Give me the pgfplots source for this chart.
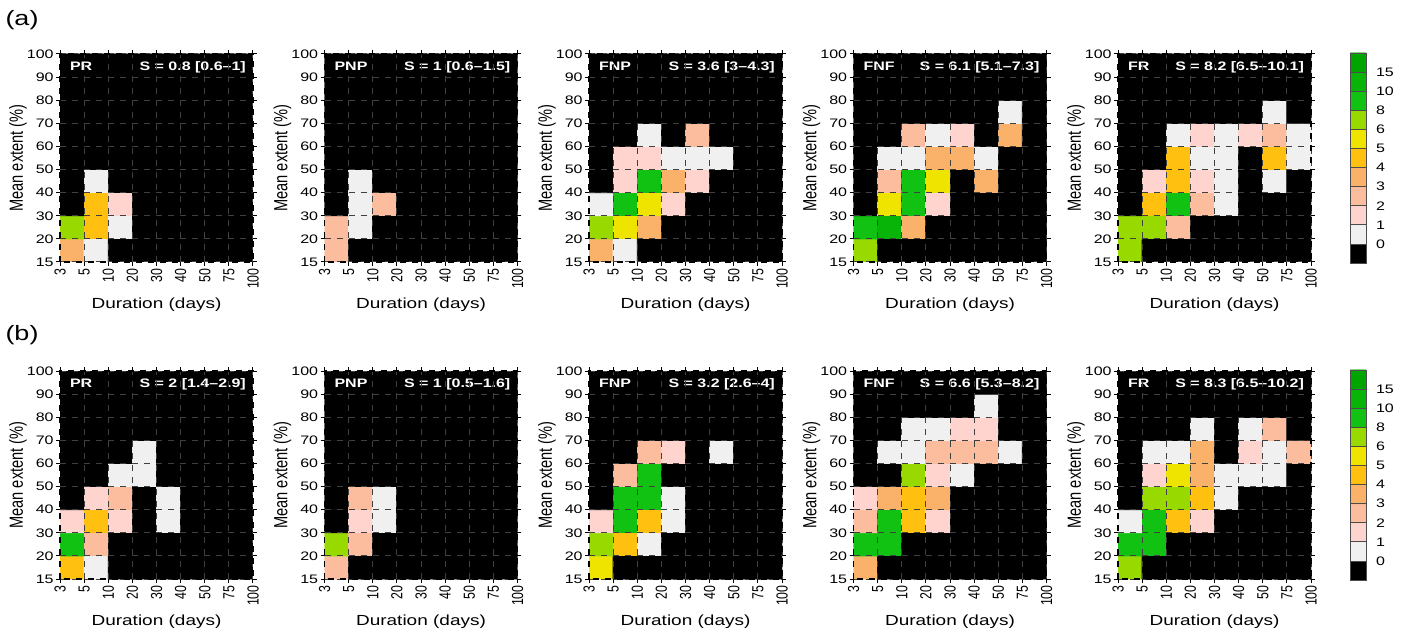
\documentclass[border=0pt]{standalone}
\usepackage{fontspec}
\setmainfont{Liberation Sans}
\usepackage{graphicx}
\usepackage{pgfplots}
\pgfplotsset{compat=1.18}
\newcommand{\hs}[1]{\scalebox{1}[0.77]{#1}}
\newcommand{\vs}[1]{\scalebox{0.77}[1]{#1}}
\tikzset{lab/.style={text=white, font=\bfseries\fontsize{8}{9}\selectfont, inner sep=0pt}}
\pgfplotsset{
  colormap={cat}{rgb255=(0,0,0) rgb255=(240,240,240) rgb255=(255,212,206) rgb255=(252,188,158) rgb255=(250,178,106) rgb255=(255,192,16) rgb255=(238,228,0) rgb255=(152,218,0) rgb255=(18,194,18) rgb255=(8,180,8) rgb255=(0,165,0)},
  panel/.style={
    scale only axis, width=96.5pt, height=104pt,
    xmin=-0.5, xmax=7.5, ymin=-0.5, ymax=8.5, enlargelimits=false,
    xtick={-0.5,0.5,...,7.5},
    xticklabels={\vs{3},\vs{5},\vs{10},\vs{20},\vs{30},\vs{40},\vs{50},\vs{75},\vs{100}},
    ytick={-0.5,0.5,...,8.5},
    yticklabels={\hs{15},\hs{20},\hs{30},\hs{40},\hs{50},\hs{60},\hs{70},\hs{80},\hs{90},\hs{100}},
    tick pos=both, tick align=outside, major tick length=2pt,
    tick style={black, line width=0.5pt},
    x tick label style={rotate=90, anchor=east, inner sep=1pt},
    y tick label style={inner sep=1pt},
    tick label style={font=\fontsize{8}{9}\selectfont},
    xlabel={\hs{Duration (days)}}, ylabel={\vs{Mean extent (\%)}},
    every axis x label/.style={at={(rel axis cs:0.5,0)}, yshift=-21.5pt, anchor=center},
    every axis y label/.style={at={(rel axis cs:0,0.5)}, xshift=-21pt, rotate=90, anchor=center},
    label style={font=\fontsize{9.5}{11}\selectfont},
    grid=major, grid style={dashed, black!75, line width=0.5pt},
    axis on top,
    axis line style={dashed, line width=0.6pt},
    colormap name=cat,
  },
  cell/.style={matrix plot*, point meta=explicit, mesh/cols=8, colormap access=direct},
  cbar/.style={
    scale only axis, width=8pt, height=105pt,
    xmin=-0.5, xmax=1.5, ymin=-0.5, ymax=10.5, enlargelimits=false,
    xtick=\empty, ytick={0.5,1.5,...,9.5},
    yticklabels={\hs{0},\hs{1},\hs{2},\hs{3},\hs{4},\hs{5},\hs{6},\hs{8},\hs{10},\hs{15}},
    yticklabel pos=right, major tick length=0pt, ytick style={draw=none},
    grid=major, grid style={black!70, line width=0.4pt}, axis on top,
    axis line style={black!70, line width=0.4pt},
    tick label style={font=\fontsize{8}{9}\selectfont},
    yticklabel style={xshift=1.5pt},
    colormap name=cat,
  },
}
\newcommand{\panel}[4]{%
\begin{axis}[panel, at={#1}, anchor=south west]
\addplot[cell] coordinates {#4};
\node[lab, anchor=north west] at (rel axis cs:0.05,0.965) {\hs{#2}};
\node[lab, anchor=north east] at (rel axis cs:0.965,0.965) {\hs{#3}};
\end{axis}}
\newcommand{\colbar}[1]{%
\begin{axis}[cbar, at={#1}, anchor=south west]
\addplot[matrix plot*, point meta=explicit, mesh/cols=2, colormap access=direct] coordinates {
(0,0)[0] (1,0)[0] (0,1)[1] (1,1)[1] (0,2)[2] (1,2)[2] (0,3)[3] (1,3)[3]
(0,4)[4] (1,4)[4] (0,5)[5] (1,5)[5] (0,6)[6] (1,6)[6] (0,7)[7] (1,7)[7]
(0,8)[8] (1,8)[8] (0,9)[9] (1,9)[9] (0,10)[10] (1,10)[10]};
\end{axis}}
\begin{document}
\begin{tikzpicture}
\path[use as bounding box] (0,0) rectangle (704pt,316pt);
\node[anchor=center, font=\fontsize{13.5}{14}\selectfont] at (11pt,306pt) {\hs{(a)}};
\node[anchor=center, font=\fontsize{13.5}{14}\selectfont] at (11pt,148.5pt) {\hs{(b)}};
% ---------- row (a) ----------
\panel{(30pt,185pt)}{PR}{S = 0.8 [0.6--1]}{
(0,0)[4] (1,0)[1] (2,0)[0] (3,0)[0] (4,0)[0] (5,0)[0] (6,0)[0] (7,0)[0]
(0,1)[7] (1,1)[5] (2,1)[1] (3,1)[0] (4,1)[0] (5,1)[0] (6,1)[0] (7,1)[0]
(0,2)[0] (1,2)[5] (2,2)[2] (3,2)[0] (4,2)[0] (5,2)[0] (6,2)[0] (7,2)[0]
(0,3)[0] (1,3)[1] (2,3)[0] (3,3)[0] (4,3)[0] (5,3)[0] (6,3)[0] (7,3)[0]
(0,4)[0] (1,4)[0] (2,4)[0] (3,4)[0] (4,4)[0] (5,4)[0] (6,4)[0] (7,4)[0]
(0,5)[0] (1,5)[0] (2,5)[0] (3,5)[0] (4,5)[0] (5,5)[0] (6,5)[0] (7,5)[0]
(0,6)[0] (1,6)[0] (2,6)[0] (3,6)[0] (4,6)[0] (5,6)[0] (6,6)[0] (7,6)[0]
(0,7)[0] (1,7)[0] (2,7)[0] (3,7)[0] (4,7)[0] (5,7)[0] (6,7)[0] (7,7)[0]
(0,8)[0] (1,8)[0] (2,8)[0] (3,8)[0] (4,8)[0] (5,8)[0] (6,8)[0] (7,8)[0]}
\panel{(162.25pt,185pt)}{PNP}{S = 1 [0.6--1.5]}{
(0,0)[3] (1,0)[0] (2,0)[0] (3,0)[0] (4,0)[0] (5,0)[0] (6,0)[0] (7,0)[0]
(0,1)[3] (1,1)[1] (2,1)[0] (3,1)[0] (4,1)[0] (5,1)[0] (6,1)[0] (7,1)[0]
(0,2)[0] (1,2)[1] (2,2)[3] (3,2)[0] (4,2)[0] (5,2)[0] (6,2)[0] (7,2)[0]
(0,3)[0] (1,3)[1] (2,3)[0] (3,3)[0] (4,3)[0] (5,3)[0] (6,3)[0] (7,3)[0]
(0,4)[0] (1,4)[0] (2,4)[0] (3,4)[0] (4,4)[0] (5,4)[0] (6,4)[0] (7,4)[0]
(0,5)[0] (1,5)[0] (2,5)[0] (3,5)[0] (4,5)[0] (5,5)[0] (6,5)[0] (7,5)[0]
(0,6)[0] (1,6)[0] (2,6)[0] (3,6)[0] (4,6)[0] (5,6)[0] (6,6)[0] (7,6)[0]
(0,7)[0] (1,7)[0] (2,7)[0] (3,7)[0] (4,7)[0] (5,7)[0] (6,7)[0] (7,7)[0]
(0,8)[0] (1,8)[0] (2,8)[0] (3,8)[0] (4,8)[0] (5,8)[0] (6,8)[0] (7,8)[0]}
\panel{(294.5pt,185pt)}{FNP}{S = 3.6 [3--4.3]}{
(0,0)[4] (1,0)[1] (2,0)[0] (3,0)[0] (4,0)[0] (5,0)[0] (6,0)[0] (7,0)[0]
(0,1)[7] (1,1)[6] (2,1)[4] (3,1)[0] (4,1)[0] (5,1)[0] (6,1)[0] (7,1)[0]
(0,2)[1] (1,2)[8] (2,2)[6] (3,2)[2] (4,2)[0] (5,2)[0] (6,2)[0] (7,2)[0]
(0,3)[0] (1,3)[2] (2,3)[8] (3,3)[4] (4,3)[2] (5,3)[0] (6,3)[0] (7,3)[0]
(0,4)[0] (1,4)[2] (2,4)[2] (3,4)[1] (4,4)[1] (5,4)[1] (6,4)[0] (7,4)[0]
(0,5)[0] (1,5)[0] (2,5)[1] (3,5)[0] (4,5)[3] (5,5)[0] (6,5)[0] (7,5)[0]
(0,6)[0] (1,6)[0] (2,6)[0] (3,6)[0] (4,6)[0] (5,6)[0] (6,6)[0] (7,6)[0]
(0,7)[0] (1,7)[0] (2,7)[0] (3,7)[0] (4,7)[0] (5,7)[0] (6,7)[0] (7,7)[0]
(0,8)[0] (1,8)[0] (2,8)[0] (3,8)[0] (4,8)[0] (5,8)[0] (6,8)[0] (7,8)[0]}
\panel{(426.75pt,185pt)}{FNF}{S = 6.1 [5.1--7.3]}{
(0,0)[7] (1,0)[0] (2,0)[0] (3,0)[0] (4,0)[0] (5,0)[0] (6,0)[0] (7,0)[0]
(0,1)[8] (1,1)[9] (2,1)[4] (3,1)[0] (4,1)[0] (5,1)[0] (6,1)[0] (7,1)[0]
(0,2)[0] (1,2)[6] (2,2)[8] (3,2)[2] (4,2)[0] (5,2)[0] (6,2)[0] (7,2)[0]
(0,3)[0] (1,3)[3] (2,3)[8] (3,3)[6] (4,3)[0] (5,3)[4] (6,3)[0] (7,3)[0]
(0,4)[0] (1,4)[1] (2,4)[1] (3,4)[4] (4,4)[4] (5,4)[1] (6,4)[0] (7,4)[0]
(0,5)[0] (1,5)[0] (2,5)[3] (3,5)[1] (4,5)[2] (5,5)[0] (6,5)[4] (7,5)[0]
(0,6)[0] (1,6)[0] (2,6)[0] (3,6)[0] (4,6)[0] (5,6)[0] (6,6)[1] (7,6)[0]
(0,7)[0] (1,7)[0] (2,7)[0] (3,7)[0] (4,7)[0] (5,7)[0] (6,7)[0] (7,7)[0]
(0,8)[0] (1,8)[0] (2,8)[0] (3,8)[0] (4,8)[0] (5,8)[0] (6,8)[0] (7,8)[0]}
\panel{(559pt,185pt)}{FR}{S = 8.2 [6.5--10.1]}{
(0,0)[7] (1,0)[0] (2,0)[0] (3,0)[0] (4,0)[0] (5,0)[0] (6,0)[0] (7,0)[0]
(0,1)[7] (1,1)[7] (2,1)[3] (3,1)[0] (4,1)[0] (5,1)[0] (6,1)[0] (7,1)[0]
(0,2)[0] (1,2)[5] (2,2)[8] (3,2)[3] (4,2)[1] (5,2)[0] (6,2)[0] (7,2)[0]
(0,3)[0] (1,3)[2] (2,3)[5] (3,3)[2] (4,3)[1] (5,3)[0] (6,3)[1] (7,3)[0]
(0,4)[0] (1,4)[0] (2,4)[5] (3,4)[1] (4,4)[1] (5,4)[0] (6,4)[5] (7,4)[1]
(0,5)[0] (1,5)[0] (2,5)[1] (3,5)[2] (4,5)[1] (5,5)[2] (6,5)[3] (7,5)[1]
(0,6)[0] (1,6)[0] (2,6)[0] (3,6)[0] (4,6)[0] (5,6)[0] (6,6)[1] (7,6)[0]
(0,7)[0] (1,7)[0] (2,7)[0] (3,7)[0] (4,7)[0] (5,7)[0] (6,7)[0] (7,7)[0]
(0,8)[0] (1,8)[0] (2,8)[0] (3,8)[0] (4,8)[0] (5,8)[0] (6,8)[0] (7,8)[0]}
\colbar{(675pt,184.5pt)}
% ---------- row (b) ----------
\panel{(30pt,26.5pt)}{PR}{S = 2 [1.4--2.9]}{
(0,0)[5] (1,0)[1] (2,0)[0] (3,0)[0] (4,0)[0] (5,0)[0] (6,0)[0] (7,0)[0]
(0,1)[8] (1,1)[3] (2,1)[0] (3,1)[0] (4,1)[0] (5,1)[0] (6,1)[0] (7,1)[0]
(0,2)[2] (1,2)[5] (2,2)[2] (3,2)[0] (4,2)[1] (5,2)[0] (6,2)[0] (7,2)[0]
(0,3)[0] (1,3)[2] (2,3)[3] (3,3)[0] (4,3)[1] (5,3)[0] (6,3)[0] (7,3)[0]
(0,4)[0] (1,4)[0] (2,4)[1] (3,4)[1] (4,4)[0] (5,4)[0] (6,4)[0] (7,4)[0]
(0,5)[0] (1,5)[0] (2,5)[0] (3,5)[1] (4,5)[0] (5,5)[0] (6,5)[0] (7,5)[0]
(0,6)[0] (1,6)[0] (2,6)[0] (3,6)[0] (4,6)[0] (5,6)[0] (6,6)[0] (7,6)[0]
(0,7)[0] (1,7)[0] (2,7)[0] (3,7)[0] (4,7)[0] (5,7)[0] (6,7)[0] (7,7)[0]
(0,8)[0] (1,8)[0] (2,8)[0] (3,8)[0] (4,8)[0] (5,8)[0] (6,8)[0] (7,8)[0]}
\panel{(162.25pt,26.5pt)}{PNP}{S = 1 [0.5--1.6]}{
(0,0)[3] (1,0)[0] (2,0)[0] (3,0)[0] (4,0)[0] (5,0)[0] (6,0)[0] (7,0)[0]
(0,1)[7] (1,1)[3] (2,1)[0] (3,1)[0] (4,1)[0] (5,1)[0] (6,1)[0] (7,1)[0]
(0,2)[0] (1,2)[2] (2,2)[1] (3,2)[0] (4,2)[0] (5,2)[0] (6,2)[0] (7,2)[0]
(0,3)[0] (1,3)[3] (2,3)[1] (3,3)[0] (4,3)[0] (5,3)[0] (6,3)[0] (7,3)[0]
(0,4)[0] (1,4)[0] (2,4)[0] (3,4)[0] (4,4)[0] (5,4)[0] (6,4)[0] (7,4)[0]
(0,5)[0] (1,5)[0] (2,5)[0] (3,5)[0] (4,5)[0] (5,5)[0] (6,5)[0] (7,5)[0]
(0,6)[0] (1,6)[0] (2,6)[0] (3,6)[0] (4,6)[0] (5,6)[0] (6,6)[0] (7,6)[0]
(0,7)[0] (1,7)[0] (2,7)[0] (3,7)[0] (4,7)[0] (5,7)[0] (6,7)[0] (7,7)[0]
(0,8)[0] (1,8)[0] (2,8)[0] (3,8)[0] (4,8)[0] (5,8)[0] (6,8)[0] (7,8)[0]}
\panel{(294.5pt,26.5pt)}{FNP}{S = 3.2 [2.6--4]}{
(0,0)[6] (1,0)[0] (2,0)[0] (3,0)[0] (4,0)[0] (5,0)[0] (6,0)[0] (7,0)[0]
(0,1)[7] (1,1)[5] (2,1)[1] (3,1)[0] (4,1)[0] (5,1)[0] (6,1)[0] (7,1)[0]
(0,2)[2] (1,2)[8] (2,2)[5] (3,2)[1] (4,2)[0] (5,2)[0] (6,2)[0] (7,2)[0]
(0,3)[0] (1,3)[8] (2,3)[8] (3,3)[1] (4,3)[0] (5,3)[0] (6,3)[0] (7,3)[0]
(0,4)[0] (1,4)[3] (2,4)[8] (3,4)[0] (4,4)[0] (5,4)[0] (6,4)[0] (7,4)[0]
(0,5)[0] (1,5)[0] (2,5)[3] (3,5)[2] (4,5)[0] (5,5)[1] (6,5)[0] (7,5)[0]
(0,6)[0] (1,6)[0] (2,6)[0] (3,6)[0] (4,6)[0] (5,6)[0] (6,6)[0] (7,6)[0]
(0,7)[0] (1,7)[0] (2,7)[0] (3,7)[0] (4,7)[0] (5,7)[0] (6,7)[0] (7,7)[0]
(0,8)[0] (1,8)[0] (2,8)[0] (3,8)[0] (4,8)[0] (5,8)[0] (6,8)[0] (7,8)[0]}
\panel{(426.75pt,26.5pt)}{FNF}{S = 6.6 [5.3--8.2]}{
(0,0)[4] (1,0)[0] (2,0)[0] (3,0)[0] (4,0)[0] (5,0)[0] (6,0)[0] (7,0)[0]
(0,1)[8] (1,1)[8] (2,1)[0] (3,1)[0] (4,1)[0] (5,1)[0] (6,1)[0] (7,1)[0]
(0,2)[3] (1,2)[8] (2,2)[5] (3,2)[2] (4,2)[0] (5,2)[0] (6,2)[0] (7,2)[0]
(0,3)[2] (1,3)[4] (2,3)[5] (3,3)[4] (4,3)[0] (5,3)[0] (6,3)[0] (7,3)[0]
(0,4)[0] (1,4)[0] (2,4)[7] (3,4)[2] (4,4)[1] (5,4)[0] (6,4)[0] (7,4)[0]
(0,5)[0] (1,5)[1] (2,5)[1] (3,5)[3] (4,5)[3] (5,5)[3] (6,5)[1] (7,5)[0]
(0,6)[0] (1,6)[0] (2,6)[1] (3,6)[1] (4,6)[2] (5,6)[2] (6,6)[0] (7,6)[0]
(0,7)[0] (1,7)[0] (2,7)[0] (3,7)[0] (4,7)[0] (5,7)[1] (6,7)[0] (7,7)[0]
(0,8)[0] (1,8)[0] (2,8)[0] (3,8)[0] (4,8)[0] (5,8)[0] (6,8)[0] (7,8)[0]}
\panel{(559pt,26.5pt)}{FR}{S = 8.3 [6.5--10.2]}{
(0,0)[7] (1,0)[0] (2,0)[0] (3,0)[0] (4,0)[0] (5,0)[0] (6,0)[0] (7,0)[0]
(0,1)[8] (1,1)[8] (2,1)[0] (3,1)[0] (4,1)[0] (5,1)[0] (6,1)[0] (7,1)[0]
(0,2)[1] (1,2)[8] (2,2)[5] (3,2)[2] (4,2)[0] (5,2)[0] (6,2)[0] (7,2)[0]
(0,3)[0] (1,3)[7] (2,3)[7] (3,3)[5] (4,3)[1] (5,3)[0] (6,3)[0] (7,3)[0]
(0,4)[0] (1,4)[2] (2,4)[6] (3,4)[4] (4,4)[1] (5,4)[1] (6,4)[1] (7,4)[0]
(0,5)[0] (1,5)[1] (2,5)[1] (3,5)[4] (4,5)[0] (5,5)[2] (6,5)[1] (7,5)[3]
(0,6)[0] (1,6)[0] (2,6)[0] (3,6)[1] (4,6)[0] (5,6)[1] (6,6)[3] (7,6)[0]
(0,7)[0] (1,7)[0] (2,7)[0] (3,7)[0] (4,7)[0] (5,7)[0] (6,7)[0] (7,7)[0]
(0,8)[0] (1,8)[0] (2,8)[0] (3,8)[0] (4,8)[0] (5,8)[0] (6,8)[0] (7,8)[0]}
\colbar{(675pt,26pt)}
\end{tikzpicture}
\end{document}
